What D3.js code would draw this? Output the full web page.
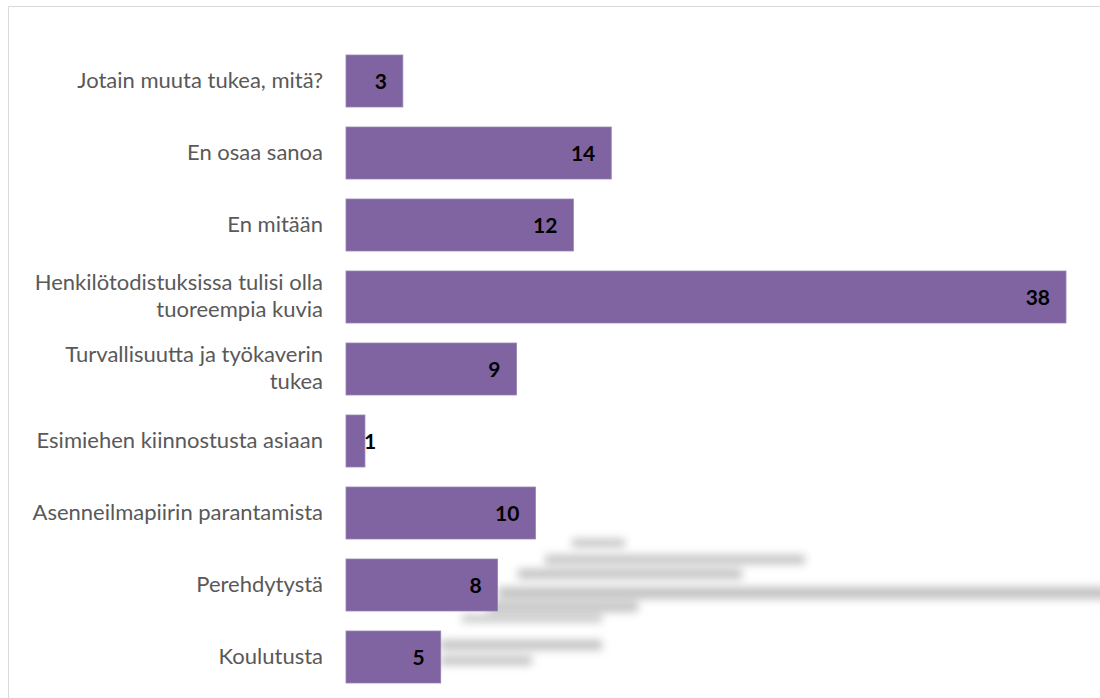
<!DOCTYPE html>
<html>
<head>
<meta charset="utf-8">
<script src="https://cdn.jsdelivr.net/npm/d3@7"></script>
<style>
  body { margin: 0; background: #fff; }
  svg { display: block; }
</style>
</head>
<body>
<div id="chart"></div>
<script>
// Answers (top to bottom, as drawn) and their counts
const categories = [
    "Jotain muuta tukea, mitä?",
    "En osaa sanoa",
    "En mitään",
    "Henkilötodistuksissa tulisi olla tuoreempia kuvia",
    "Turvallisuutta ja työkaverin tukea",
    "Esimiehen kiinnostusta asiaan",
    "Asenneilmapiirin parantamista",
    "Perehdytystä",
    "Koulutusta"
];
const counts = [3, 14, 12, 38, 9, 1, 10, 8, 5];

const width = 1100;
const height = 698;
const barColor = "#8064A2";

const svg = d3.select("#chart")
    .append("svg")
    .attr("width", width)
    .attr("height", height);

// chart frame (only top and left edges are inside the picture)
svg.append("path")
    .attr("d", `M8.5,${height} V6.5 H${width}`)
    .attr("fill", "none")
    .attr("stroke", "#d9d9d9")
    .attr("stroke-width", 1);

const x = d3.scaleLinear()
    .domain([0, 38])
    .range([346, 1066]);

const y = d3.scaleBand()
    .domain(categories)
    .range([45, 693])
    .paddingInner(0.278)
    .paddingOuter(0.139);

// blurred grey smudge seen in the lower right of the original image (decoration)
const smudgeStreaks = [
    [572, 625, 539, 8],
    [545, 805, 555, 9],
    [518, 742, 569, 10],
    [498, 1120, 587, 12],
    [488, 638, 602, 10],
    [462, 602, 615, 7],
    [440, 602, 640, 10],
    [440, 532, 656, 9]
];
svg.append("g")
    .style("filter", "blur(4px)")
    .selectAll("rect")
    .data(smudgeStreaks)
    .enter().append("rect")
    .attr("x", d => d[0])
    .attr("y", d => d[2])
    .attr("width", d => d[1] - d[0])
    .attr("height", d => d[3])
    .attr("fill", "#c2c2c2");

// bars
svg.append("g")
    .selectAll("rect")
    .data(categories)
    .enter().append("rect")
    .attr("x", x(0))
    .attr("y", d => y(d))
    .attr("width", (d, i) => x(counts[i]) - x(0))
    .attr("height", y.bandwidth())
    .attr("fill", barColor)
    .attr("stroke", "#9583b3")
    .attr("stroke-width", 0.8);

// category labels, wrapped like the original
const maxLabelWidth = 300;
const lineHeight = 26.7;
const labels = svg.append("g")
    .selectAll("text")
    .data(categories)
    .enter().append("text")
    .attr("text-anchor", "end")
    .attr("font-family", "Lato, 'Open Sans', sans-serif")
    .attr("font-size", 22)
    .attr("fill", "#595959");

labels.each(function (d) {
    const text = d3.select(this);
    const words = d.split(" ");
    let lines = [];
    let line = [];
    const probe = text.append("tspan");
    words.forEach(function (w) {
        line.push(w);
        probe.text(line.join(" "));
        if (probe.node().getComputedTextLength() > maxLabelWidth && line.length > 1) {
            line.pop();
            lines.push(line.join(" "));
            line = [w];
        }
    });
    lines.push(line.join(" "));
    probe.remove();

    const cy = y(d) + y.bandwidth() / 2;
    const first = cy + 6.5 - (lines.length - 1) * lineHeight / 2;
    lines.forEach(function (l, k) {
        text.append("tspan")
            .attr("x", 323)
            .attr("y", first + k * lineHeight)
            .text(l);
    });
});

// value labels at the inside end of each bar
svg.append("g")
    .selectAll("text")
    .data(categories)
    .enter().append("text")
    .attr("font-family", "Lato, 'Open Sans', sans-serif")
    .attr("font-weight", "bold")
    .attr("font-size", 21)
    .attr("fill", "#000")
    .attr("y", d => y(d) + y.bandwidth() / 2 + 7.5)
    .attr("x", (d, i) => (x(counts[i]) - x(0) < 40) ? x(counts[i]) - 1 : x(counts[i]) - 16)
    .attr("text-anchor", (d, i) => (x(counts[i]) - x(0) < 40) ? "start" : "end")
    .text((d, i) => counts[i]);
</script>
</body>
</html>
